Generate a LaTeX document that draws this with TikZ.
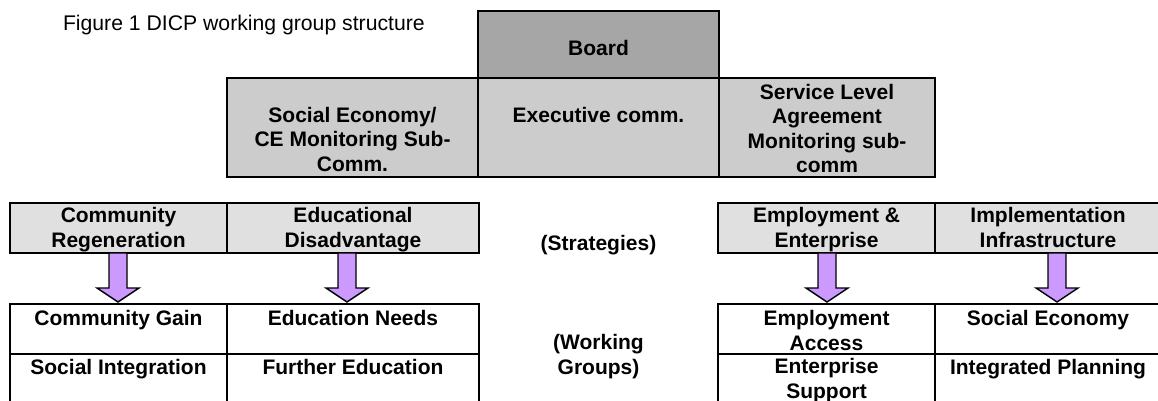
\documentclass[tikz,border=0pt]{standalone}
\usepackage{fontspec}
\setmainfont{Liberation Sans}
\usetikzlibrary{calc}

\definecolor{boardgray}{RGB}{166,166,166}
\definecolor{commgray}{RGB}{204,204,204}
\definecolor{stratgray}{RGB}{224,224,224}
\definecolor{arrowlilac}{RGB}{204,153,255}

% centred bold cell text; the node's base is the first line's baseline
\newcommand{\celltext}[1]{\parbox[t]{8cm}{\centering\fontsize{21}{24.5}\selectfont\bfseries #1}}

% block arrow from the bottom of one cell down to the top of another
\newcommand{\downblock}[3]{%
  \draw[block arrow] let \p1=($(#1.south)+(#3,0)$), \p2=(#2.north) in
    (\x1-9pt,\y1) -- (\x1+9pt,\y1) -- (\x1+9pt,\y2+16pt) -- (\x1+21pt,\y2+16pt)
    -- (\x1,\y2+2pt) -- (\x1-21pt,\y2+16pt) -- (\x1-9pt,\y2+16pt) -- cycle;}

\begin{document}
\begin{tikzpicture}[x=1pt,y=-1pt,
  cell/.style={draw=black,line width=2pt,inner sep=0pt,outer sep=0pt,anchor=north west},
  gridcell/.style={draw=black,line width=1.8pt,inner sep=0pt,outer sep=0pt,anchor=north west},
  label text/.style={inner sep=0pt,outer sep=0pt,anchor=base},
  block arrow/.style={draw=black,line width=1.4pt,fill=arrowlilac,line join=miter}]

\clip (0,0) rectangle (1158,401);

% title
\node[label text,anchor=base west] (title) at (63,31)
  {\fontsize{21.2}{24.5}\selectfont Figure 1 DICP working group structure};

% board and committees
\node[cell,fill=boardgray,minimum width=241pt,minimum height=67pt] (board) at (478,11) {};
\node[cell,fill=commgray,minimum width=251pt,minimum height=99pt] (sesub) at (227,78) {};
\node[cell,fill=commgray,minimum width=241pt,minimum height=99pt] (exec) at (478,78) {};
\node[cell,fill=commgray,minimum width=216pt,minimum height=99pt] (sla) at (719,78) {};

\node[label text] (t-board) at (598.5,55.5) {\celltext{Board}};
\node[label text] (t-sesub) at (352.5,122.5) {\celltext{Social Economy/\\CE Monitoring Sub-\\Comm.}};
\node[label text] (t-exec) at (598.5,122.5) {\celltext{Executive comm.}};
\node[label text] (t-sla) at (827,99.5) {\celltext{Service Level\\Agreement\\Monitoring sub-\\comm}};

% strategies
\node[cell,fill=stratgray,minimum width=217pt,minimum height=50pt] (commreg) at (10,203) {};
\node[cell,fill=stratgray,minimum width=252pt,minimum height=50pt] (edudis) at (227,203) {};
\node[cell,fill=stratgray,minimum width=217pt,minimum height=50pt] (empent) at (718,203) {};
\node[cell,fill=stratgray,minimum width=226pt,minimum height=50pt] (impinf) at (935,203) {};

\node[label text] (t-commreg) at (118.5,222.5) {\celltext{Community\\Regeneration}};
\node[label text] (t-edudis) at (353,222.5) {\celltext{Educational\\Disadvantage}};
\node[label text] (t-strat) at (598.5,250) {\celltext{(Strategies)}};
\node[label text] (t-empent) at (826.5,222.5) {\celltext{Employment \&\\Enterprise}};
\node[label text] (t-impinf) at (1048,222.5) {\celltext{Implementation\\Infrastructure}};

% working groups
\node[gridcell,minimum width=217pt,minimum height=50pt] (cg) at (10,304) {};
\node[gridcell,minimum width=217pt,minimum height=62pt] (si) at (10,354) {};
\node[gridcell,minimum width=252pt,minimum height=50pt] (en) at (227,304) {};
\node[gridcell,minimum width=252pt,minimum height=62pt] (fe) at (227,354) {};
\node[gridcell,minimum width=217pt,minimum height=50pt] (ea) at (718,304) {};
\node[gridcell,minimum width=217pt,minimum height=62pt] (es) at (718,354) {};
\node[gridcell,minimum width=226pt,minimum height=50pt] (se) at (935,304) {};
\node[gridcell,minimum width=226pt,minimum height=62pt] (ip) at (935,354) {};

\node[label text] (t-cg) at (118.5,325.5) {\celltext{Community Gain}};
\node[label text] (t-si) at (118.5,374) {\celltext{Social Integration}};
\node[label text] (t-en) at (353,325.5) {\celltext{Education Needs}};
\node[label text] (t-fe) at (353,374) {\celltext{Further Education}};
\node[label text] (t-wg) at (598.5,349.5) {\celltext{(Working\\Groups)}};
\node[label text] (t-ea) at (826.5,325.5) {\celltext{Employment\\Access}};
\node[label text] (t-es) at (826.5,373.5) {\celltext{Enterprise\\Support}};
\node[label text] (t-se) at (1048,325.5) {\celltext{Social Economy}};
\node[label text] (t-ip) at (1048,374) {\celltext{Integrated Planning}};

% arrows from strategies to working groups
\downblock{commreg}{cg}{-0.5}
\downblock{edudis}{en}{-6}
\downblock{empent}{ea}{0.5}
\downblock{impinf}{se}{9}

\end{tikzpicture}
\end{document}
